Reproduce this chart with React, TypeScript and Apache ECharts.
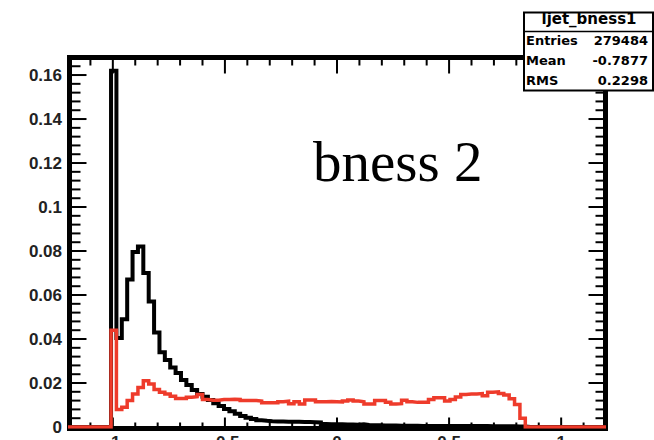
import React, { useEffect, useRef } from "react";
import * as echarts from "echarts";

// Histogram binning (ROOT TH1: 100 bins over [-1.2, 1.2])
const binLow = -1.2;
const binHigh = 1.2;
const nBins = 100;
const firstFilledBin = 8; // bin containing x = -1

// Black histogram (bins 8 .. 84)
const blackValues = [
  0.162, 0.0405, 0.049, 0.067, 0.0795, 0.082, 0.07, 0.057, 0.043, 0.034,
  0.0305, 0.027, 0.0245, 0.0214, 0.0191, 0.0168, 0.015, 0.0138, 0.0123, 0.0108,
  0.0095, 0.0082, 0.0072, 0.006, 0.005, 0.0042, 0.0036, 0.0031, 0.0028, 0.0026,
  0.0025, 0.0025, 0.0024, 0.0024, 0.0024, 0.0023, 0.0023, 0.0022, 0.0021, 0.0014,
  0.0013, 0.0012, 0.0012, 0.0011, 0.0011, 0.001, 0.0012, 0.0009, 0.0008, 0.0008,
  0.0007, 0.0007, 0.0007, 0.0006, 0.0006, 0.0006, 0.0006, 0.0005, 0.0005, 0.0005,
  0.0005, 0.0005, 0.0005, 0.0004, 0.0004, 0.0004, 0.0004, 0.0004, 0.0004, 0.0004,
  0.0003, 0.0003, 0.0003, 0.0003, 0.0003, 0.0002, 0.0002,
];

// Red histogram (bins 8 .. 84)
const redValues = [
  0.044, 0.008, 0.009, 0.012, 0.015, 0.018, 0.021, 0.0195, 0.017, 0.0158,
  0.015, 0.014, 0.013, 0.013, 0.0135, 0.0138, 0.0148, 0.0125, 0.0122, 0.0122,
  0.0125, 0.0125, 0.0126, 0.0125, 0.012, 0.012, 0.012, 0.0118, 0.011, 0.011,
  0.011, 0.0115, 0.0117, 0.0106, 0.0115, 0.0105, 0.0123, 0.0123, 0.0115, 0.0115,
  0.0116, 0.0115, 0.0114, 0.0118, 0.0123, 0.0118, 0.0115, 0.0105, 0.0105, 0.012,
  0.012, 0.0112, 0.0105, 0.0106, 0.0122, 0.0115, 0.0112, 0.0112, 0.0112, 0.0125,
  0.0133, 0.0133, 0.0118, 0.0125, 0.0136, 0.0148, 0.015, 0.015, 0.0152, 0.0142,
  0.0158, 0.016, 0.0152, 0.0146, 0.0128, 0.0102, 0.004,
];

// Axis ticks and labels
const xMajorTicks = [-1, -0.5, 0, 0.5, 1];
const xTickLabels = ["-1", "-0.5", "0", "0.5", "1"];
const xMinorTicks = [
  -1.1, -0.9, -0.8, -0.7, -0.6, -0.4, -0.3, -0.2, -0.1,
  0.1, 0.2, 0.3, 0.4, 0.6, 0.7, 0.8, 0.9, 1.1,
];
const yMajorTicks = [0, 0.02, 0.04, 0.06, 0.08, 0.1, 0.12, 0.14, 0.16];
const yTickLabels = ["0", "0.02", "0.04", "0.06", "0.08", "0.1", "0.12", "0.14", "0.16"];
const yMinorTicks = [
  0.004, 0.008, 0.012, 0.016, 0.024, 0.028, 0.032, 0.036,
  0.044, 0.048, 0.052, 0.056, 0.064, 0.068, 0.072, 0.076,
  0.084, 0.088, 0.092, 0.096, 0.104, 0.108, 0.112, 0.116,
  0.124, 0.128, 0.132, 0.136, 0.144, 0.148, 0.152, 0.156, 0.164,
];
const yMax = 0.1682;

// Stats box contents
const statsTitle = "ljet_bness1";
const statsNames = ["Entries", "Mean", "RMS"];
const statsValues = ["279484", "-0.7877", "0.2298"];
const annotation = "bness 2";

function buildSteps(values: number[]): number[][] {
  const width = (binHigh - binLow) / nBins;
  const pts: number[][] = [];
  for (let i = 0; i < nBins; i++) {
    const k = i - firstFilledBin;
    const v = k >= 0 && k < values.length ? values[k] : 0;
    pts.push([+(binLow + i * width).toFixed(6), v]);
  }
  pts.push([binHigh, 0]);
  return pts;
}

function labelFont() {
  return {
    fontFamily: "Liberation Sans, Arial, sans-serif",
    fontWeight: "bold" as const,
    fontSize: 17,
    color: "#222",
  };
}

export default function App() {
  const ref = useRef<HTMLDivElement>(null);
  useEffect(() => {
    if (!ref.current) return;
    const chart = echarts.init(ref.current, null, { renderer: "svg" });
    chart.setOption({
      animation: false,
      backgroundColor: "#fff",
      grid: {
        left: 68,
        right: 48,
        top: 57,
        bottom: 13,
        containLabel: false,
        outerBoundsMode: "none",
        show: false,
      },
      xAxis: {
        type: "value",
        min: binLow,
        max: binHigh,
        interval: 0.1,
        axisLine: { show: false, onZero: false },
        axisTick: { show: false },
        splitLine: { show: false },
        axisLabel: {
          ...labelFont(),
          margin: 7,
          customValues: xMajorTicks,
          formatter: (v: number) => xTickLabels[xMajorTicks.indexOf(v)] ?? "",
        },
      },
      yAxis: {
        type: "value",
        min: 0,
        max: yMax,
        interval: 0.02,
        axisLine: { show: false, onZero: false },
        axisTick: { show: false },
        splitLine: { show: false },
        axisLabel: {
          ...labelFont(),
          margin: 6,
          customValues: yMajorTicks,
          formatter: (v: number) => yTickLabels[yMajorTicks.indexOf(v)] ?? "",
        },
      },
      series: [
        {
          type: "line",
          name: "black",
          step: "end",
          data: buildSteps(blackValues),
          showSymbol: false,
          symbol: "none",
          lineStyle: { color: "#000", width: 4, join: "miter", cap: "butt" },
          z: 3,
        },
        {
          type: "line",
          name: "red",
          step: "end",
          data: buildSteps(redValues),
          showSymbol: false,
          symbol: "none",
          lineStyle: { color: "#ee3b2b", width: 3.5, join: "miter", cap: "butt" },
          z: 4,
        },
      ],
    });

    // Frame and ticks placed through the chart's own axis scales
    const px = (v: number) => chart.convertToPixel({ xAxisIndex: 0 }, v) as number;
    const py = (v: number) => chart.convertToPixel({ yAxisIndex: 0 }, v) as number;
    const xL = px(binLow) + 1.5;
    const xR = px(binHigh) - 0.5;
    const yT = py(yMax) + 0.5;
    const yB = py(0) + 1.5;
    const tickStyle = { stroke: "#000", lineWidth: 2 };
    const seg = (x1: number, y1: number, x2: number, y2: number) => ({
      type: "line",
      z: 1,
      shape: { x1, y1, x2, y2 },
      style: tickStyle,
    });
    const ticks: any[] = [];
    xMajorTicks.forEach((v) => {
      const x = px(v);
      ticks.push(seg(x, yB, x, yB - 11));
      ticks.push(seg(x, yT, x, yT + 16));
    });
    xMinorTicks.forEach((v) => {
      const x = px(v);
      ticks.push(seg(x, yB, x, yB - 6));
      ticks.push(seg(x, yT, x, yT + 8));
    });
    yMajorTicks.forEach((v) => {
      const y = py(v);
      ticks.push(seg(xL, y, xL + 17, y));
      ticks.push(seg(xR, y, xR - 17, y));
    });
    yMinorTicks.forEach((v) => {
      const y = py(v);
      ticks.push(seg(xL, y, xL + 11, y));
      ticks.push(seg(xR, y, xR - 10, y));
    });

    const statsFont = "DejaVu Sans, sans-serif";
    chart.setOption({
      graphic: [
        {
          type: "rect",
          z: 1,
          shape: { x: xL, y: yT, width: xR - xL, height: yB - yT },
          style: { fill: "none", stroke: "#000", lineWidth: 5 },
        },
        ...ticks,
        {
          type: "text",
          z: 50,
          style: {
            x: 313,
            y: 161,
            text: annotation,
            font: '57px "Liberation Serif", "Times New Roman", serif',
            fill: "#000",
            textAlign: "left",
            textVerticalAlign: "middle",
          },
        },
        {
          type: "rect",
          z: 100,
          shape: { x: 524, y: 12.5, width: 129, height: 78 },
          style: { fill: "#fff", stroke: "#000", lineWidth: 2 },
        },
        {
          type: "line",
          z: 101,
          shape: { x1: 524, y1: 31.5, x2: 653, y2: 31.5 },
          style: { stroke: "#000", lineWidth: 1.5 },
        },
        {
          type: "text",
          z: 102,
          style: {
            x: 589,
            y: 18.5,
            text: statsTitle,
            font: `bold 15px ${statsFont}`,
            fill: "#000",
            textAlign: "center",
            textVerticalAlign: "middle",
          },
        },
        ...statsNames.map((n, i) => ({
          type: "text",
          z: 102,
          style: {
            x: 526,
            y: 40.5 + i * 20,
            text: n,
            font: `bold 13px ${statsFont}`,
            fill: "#000",
            textAlign: "left",
            textVerticalAlign: "middle",
          },
        })),
        ...statsValues.map((v, i) => ({
          type: "text",
          z: 102,
          style: {
            x: 648,
            y: 40.5 + i * 20,
            text: v,
            font: `bold 13px ${statsFont}`,
            fill: "#000",
            textAlign: "right",
            textVerticalAlign: "middle",
          },
        })),
      ],
    });
    return () => chart.dispose();
  }, []);
  return (
    <div
      ref={ref}
      style={{ position: "fixed", left: 0, top: 0, width: 654, height: 440, background: "#fff" }}
    />
  );
}
